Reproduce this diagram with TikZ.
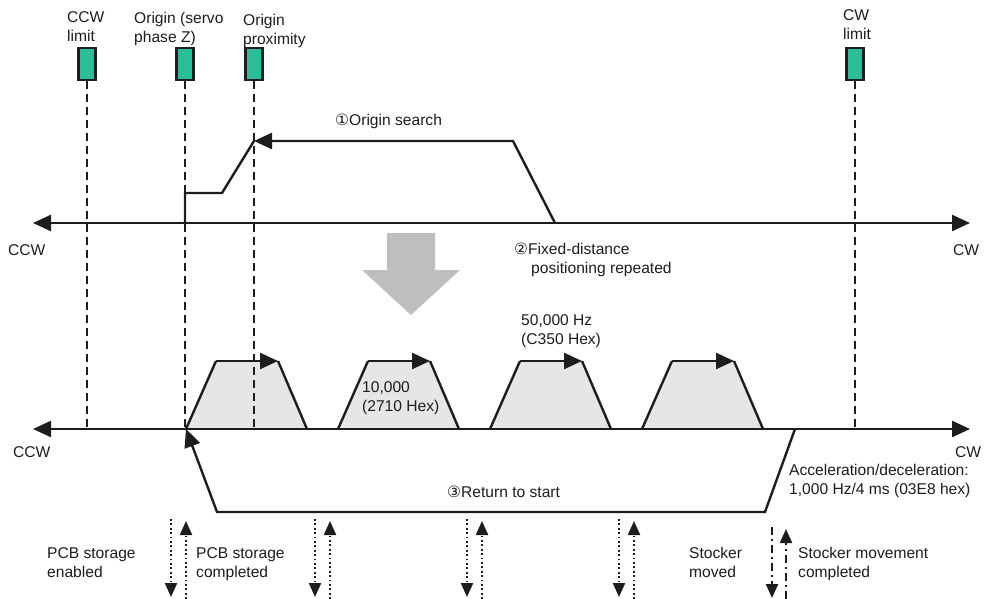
\documentclass[tikz,border=0pt]{standalone}
\usepackage{fontspec}
\setmainfont{Liberation Sans}
\newfontfamily\circfont{DejaVu Sans}
\usetikzlibrary{arrows.meta}

\definecolor{sensorgreen}{RGB}{42,189,152}
\definecolor{trapgray}{RGB}{229,230,231}
\definecolor{arrowgray}{RGB}{189,190,192}
\definecolor{inkblack}{RGB}{30,28,28}

\tikzset{
  lbl/.style={inner sep=0pt, align=left, text=inkblack, font=\fontsize{15.6}{19}\selectfont},
  sensor/.style={draw=inkblack, line width=2.3pt, fill=sensorgreen, minimum width=17pt, minimum height=32pt, inner sep=0pt},
  limitline/.style={draw=inkblack, line width=2.4pt, dash pattern=on 8pt off 5pt},
  axisline/.style={draw=inkblack, line width=2.4pt, {Triangle[length=18pt,width=16pt]}-{Triangle[length=18pt,width=16pt]}},
  profile/.style={draw=inkblack, line width=2.4pt, line join=miter},
  tipped/.style={-{Triangle[length=18pt,width=16pt]}},
  sigdot/.style={draw=inkblack, line width=2.2pt, dash pattern=on 1.8pt off 2.6pt, -{Triangle[length=14pt,width=12pt]}},
  sigdash/.style={draw=inkblack, line width=2.2pt, dash pattern=on 8pt off 4pt on 2pt off 4pt, -{Triangle[length=14pt,width=12pt]}}
}

\begin{document}
\begin{tikzpicture}[x=1pt,y=-1pt]
\useasboundingbox (0,0) rectangle (985,599);

% Sensors
\node[sensor] (ccwlim) at (87,64) {};
\node[sensor] (orgz) at (185,64) {};
\node[sensor] (prox) at (254,64) {};
\node[sensor] (cwlim) at (855,64) {};
\node[lbl, anchor=north west] (ccwlimtxt) at (67,11.5) {CCW\\limit};
\node[lbl, anchor=north west] (orgztxt) at (134,11.5) {Origin (servo\\phase Z)};
\node[lbl, anchor=north west] (proxtxt) at (243,13.5) {Origin\\proximity};
\node[lbl, anchor=north] (cwlimtxt) at (857,9) {CW\\limit};

% Axes
\coordinate (uL) at (33,223);
\coordinate (uR) at (970,223);
\coordinate (lL) at (33,429);
\coordinate (lR) at (970,429);

% Trapezoids
\foreach \b [count=\i] in {186,338,490,642} {
  \coordinate (ta\i) at (\b,429);
  \coordinate (tb\i) at (\b+30,361);
  \coordinate (tc\i) at (\b+92,361);
  \coordinate (td\i) at (\b+121,429);
  \fill[trapgray] (ta\i) -- (tb\i) -- (tc\i) -- (td\i) -- cycle;
}

% Big gray arrow
\fill[arrowgray] (387,233) -- (435,233) -- (435,270) -- (460,270) -- (411,315)
  -- (362,270) -- (387,270) -- cycle;

% Limit lines
\draw[limitline] (ccwlim.south) -- (ccwlim.south |- lL);
\draw[limitline] (orgz.south) -- (orgz.south |- lL);
\draw[limitline] (prox.south) -- (prox.south |- lL);
\draw[limitline] (cwlim.south) -- (cwlim.south |- lL);

\draw[axisline] (uL) -- (uR);
\draw[axisline] (lL) -- (lR);
\node[lbl, anchor=base west] (ccwup) at (8,255) {CCW};
\node[lbl, anchor=base west] (cwup) at (953,255) {CW};
\node[lbl, anchor=base west] (ccwlow) at (13,457) {CCW};
\node[lbl, anchor=base west] (cwlow) at (955,457) {CW};

% Origin search
\coordinate (s0) at (555,223);
\coordinate (s1) at (513,141);
\coordinate (s2) at (254,141);
\coordinate (s3) at (222,193);
\coordinate (s4) at (185,193);
\coordinate (s5) at (185,223);
\draw[profile, tipped] (s0) -- (s1) -- (s2);
\draw[profile] (s2) -- (s3) -- (s4) -- (s5);
\node[lbl, anchor=base west] (searchtxt) at (335,126) {{\circfont ①}Origin search};
\node[lbl, anchor=north west] (fixedtxt) at (514,243) {{\circfont ②}Fixed-distance\\\hspace*{17pt}positioning repeated};

% Trapezoid outlines
\foreach \i in {1,...,4} {
  \draw[profile] (ta\i) -- (tb\i);
  \draw[profile, tipped] (tb\i) -- (tc\i);
  \draw[profile] (tc\i) -- (td\i);
}
\node[lbl, anchor=north west] (lowtxt) at (362,381) {10,000\\(2710 Hex)};
\node[lbl, anchor=north west] (hightxt) at (521,314) {50,000 Hz\\(C350 Hex)};

% Return to start
\coordinate (r0) at (795,429);
\coordinate (r1) at (765,512);
\coordinate (r2) at (217,512);
\coordinate (r3) at (186,429);
\draw[profile, tipped] (r0) -- (r1) -- (r2) -- (r3);
\node[lbl, anchor=base west] (returntxt) at (447,497) {{\circfont ③}Return to start};
\node[lbl, anchor=north west] (acctxt) at (789,464) {Acceleration/deceleration:\\1,000 Hz/4 ms (03E8 hex)};

% Signals
\foreach \x [count=\i] in {171,315,467,619} {
  \coordinate (dn\i) at (\x,519);
  \coordinate (dnend\i) at (\x,597);
  \coordinate (up\i) at (\x+15,599);
  \coordinate (upend\i) at (\x+15,521);
  \draw[sigdot] (dn\i) -- (dnend\i);
  \draw[sigdot] (up\i) -- (upend\i);
}
\coordinate (sdn) at (772,527);
\coordinate (sdnend) at (772,598);
\coordinate (sup) at (786,599);
\coordinate (supend) at (786,529);
\draw[sigdash] (sdn) -- (sdnend);
\draw[sigdash] (sup) -- (supend);

\node[lbl, anchor=north west] (pcbon) at (47,547) {PCB storage\\enabled};
\node[lbl, anchor=north west] (pcbdone) at (196,547) {PCB storage\\completed};
\node[lbl, anchor=north west] (stkmoved) at (689,547) {Stocker\\moved};
\node[lbl, anchor=north west] (stkdone) at (798,547) {Stocker movement\\completed};
\end{tikzpicture}
\end{document}
